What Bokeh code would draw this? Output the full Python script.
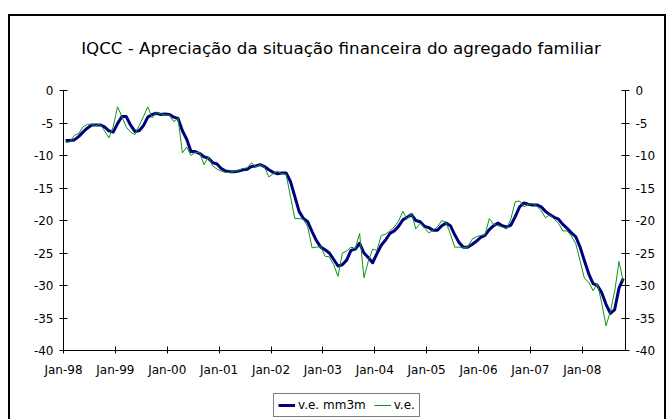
from bokeh.plotting import figure
from bokeh.layouts import column
from bokeh.models import (Range1d, LinearAxis, FixedTicker, Legend, LegendItem,
                          ColumnDataSource)
from bokeh.core.properties import value
from bokeh.embed import file_html
from bokeh.resources import INLINE

# ---------------- data ----------------
title_text = "IQCC - Apreciação da situação financeira do agregado familiar"

# monthly observations, Jan-98 .. Oct-08 (130 months)
month_index = list(range(130))

ve = [
    -8.0, -7.9, -6.9, -6.6, -5.6, -5.2, -5.2, -5.4, -5.2, -6.2, -7.3, -5.6,
    -2.5, -4.0, -5.6, -6.4, -6.8, -5.4, -4.0, -2.5, -4.2, -3.4, -3.6, -3.8,
    -3.8, -4.8, -4.3, -9.6, -8.7, -10.0, -9.5, -9.6, -11.4, -10.2, -11.6, -12.1,
    -12.4, -12.6, -12.6, -12.4, -12.3, -12.0, -11.9, -11.1, -11.8, -11.4, -11.8, -13.3,
    -12.8, -12.4, -12.8, -12.9, -16.3, -19.7, -19.7, -19.8, -21.0, -24.2, -24.1, -24.0,
    -25.5, -25.6, -26.8, -28.6, -25.0, -24.7, -24.1, -24.3, -22.0, -28.8, -26.3, -24.4,
    -24.6, -22.3, -22.1, -21.6, -21.0, -20.1, -18.6, -19.8, -18.9, -21.3, -20.4, -21.1,
    -21.9, -21.5, -21.0, -20.0, -20.3, -22.1, -24.1, -24.1, -24.2, -24.1, -22.9, -22.5,
    -22.3, -22.2, -19.7, -20.6, -20.8, -21.0, -21.3, -19.7, -17.1, -17.0, -17.9, -17.5,
    -17.4, -17.8, -18.5, -19.6, -19.1, -19.8, -20.4, -21.6, -21.6, -22.4, -23.6, -26.2,
    -28.9, -29.5, -30.8, -29.7, -32.7, -36.2, -34.0, -30.9, -26.3, -29.5,
]

ve_mm3m = [
    -7.7, -7.7, -7.6, -7.1, -6.4, -5.8, -5.3, -5.3, -5.3, -5.6, -6.2, -6.4,
    -5.1, -4.0, -4.0, -5.3, -6.3, -6.2, -5.4, -4.1, -3.7, -3.5, -3.7, -3.6,
    -3.7, -4.1, -4.3, -6.2, -7.5, -9.4, -9.4, -9.7, -10.2, -10.4, -11.1, -11.3,
    -12.0, -12.4, -12.5, -12.5, -12.4, -12.2, -12.1, -11.7, -11.6, -11.4, -11.7, -12.2,
    -12.6, -12.8, -12.7, -12.7, -14.0, -16.3, -18.6, -19.7, -20.2, -21.7, -23.1, -24.1,
    -24.5, -25.0, -26.0, -27.0, -26.8, -26.1, -24.6, -24.4, -23.5, -25.0, -25.7, -26.5,
    -25.1, -23.8, -23.0, -22.0, -21.6, -20.9, -19.9, -19.5, -19.1, -20.0, -20.2, -20.9,
    -21.1, -21.5, -21.5, -20.8, -20.4, -20.8, -22.2, -23.4, -24.1, -24.1, -23.7, -23.2,
    -22.6, -22.3, -21.4, -20.8, -20.4, -20.8, -21.0, -20.7, -19.4, -17.9, -17.3, -17.5,
    -17.6, -17.6, -17.9, -18.6, -19.1, -19.5, -19.8, -20.6, -21.2, -21.9, -22.5, -24.1,
    -26.2, -28.2, -29.7, -30.0, -31.1, -32.9, -34.3, -33.7, -30.4, -28.9,
]

x_tick_positions = [0, 12, 24, 36, 48, 60, 72, 84, 96, 108, 120]
x_tick_labels = ["Jan-98", "Jan-99", "Jan-00", "Jan-01", "Jan-02", "Jan-03",
                 "Jan-04", "Jan-05", "Jan-06", "Jan-07", "Jan-08"]
y_ticks = [0, -5, -10, -15, -20, -25, -30, -35, -40]
y_tick_labels = ["0", "-5", "-10", "-15", "-20", "-25", "-30", "-35", "-40"]

series_names = ["v.e. mm3m", "v.e."]
series_colors = ["#000080", "#11921a"]
series_widths = [3, 1]

FONT = "DejaVu Sans"
W = 654
FRAME_W = 562   # inner plotting width shared by the three stacked figures


def blank_strip(height):
    f = figure(width=W, height=height, output_backend="svg", toolbar_location=None,
               x_axis_location=None, y_axis_location=None,
               x_range=Range1d(0, FRAME_W), y_range=Range1d(0, height),
               min_border_left=0, min_border_right=0,
               min_border_top=0, min_border_bottom=0)
    f.xgrid.grid_line_color = None
    f.ygrid.grid_line_color = None
    f.outline_line_color = None
    f.background_fill_color = "white"
    f.border_fill_color = "white"
    return f


# ---------------- title strip ----------------
p0 = blank_strip(50)
p0.text(x=[277.5], y=[19], text=[title_text], text_align="center",
        text_baseline="middle", text_font=value(FONT),
        text_font_size=value("16.7px"), text_color="black")

# ---------------- main figure ----------------
# each month drawn in the middle of its slot on the date axis
src = ColumnDataSource(dict(x=[m + 0.5 for m in month_index], ve=ve, mm=ve_mm3m))

p = figure(width=W, height=320, output_backend="svg", toolbar_location=None,
           x_range=Range1d(0, 130), y_range=Range1d(-40, 0),
           min_border_left=53, min_border_right=39,
           min_border_top=24, min_border_bottom=36)
p.background_fill_color = "white"
p.border_fill_color = "white"
p.outline_line_color = None
p.xgrid.grid_line_color = None
p.ygrid.grid_line_color = None


def style_y(ax):
    ax.ticker = FixedTicker(ticks=y_ticks)
    ax.major_label_overrides = dict(zip(y_ticks, y_tick_labels))
    ax.minor_tick_line_color = None
    ax.major_tick_in = 4
    ax.major_tick_out = 4
    ax.axis_line_color = "black"
    ax.major_tick_line_color = "black"
    ax.major_label_text_font = FONT
    ax.major_label_text_font_size = "12px"
    ax.major_label_text_color = "black"
    ax.major_label_standoff = 6


style_y(p.yaxis[0])
right_axis = LinearAxis()
style_y(right_axis)
p.add_layout(right_axis, "right")

xa = p.xaxis[0]
xa.ticker = FixedTicker(ticks=x_tick_positions)
xa.major_label_overrides = dict(zip(x_tick_positions, x_tick_labels))
xa.minor_tick_line_color = None
xa.major_tick_in = 4
xa.major_tick_out = 3
xa.axis_line_color = "black"
xa.major_tick_line_color = "black"
xa.major_label_text_font = FONT
xa.major_label_text_font_size = "12px"
xa.major_label_text_color = "black"
xa.major_label_standoff = 9

p.line("x", "mm", source=src, line_color=series_colors[0],
       line_width=series_widths[0], line_join="round")
p.line("x", "ve", source=src, line_color=series_colors[1],
       line_width=series_widths[1], line_join="round")

# ---------------- legend strip ----------------
p2 = blank_strip(33)
# key renderers: drawn only as legend samples (their points lie outside the strip's ranges)
key_blue = p2.line([-10, -9], [-10, -9], line_color=series_colors[0], line_width=series_widths[0])
key_green = p2.line([-10, -9], [-10, -9], line_color=series_colors[1], line_width=series_widths[1])

legend = Legend(items=[LegendItem(label=series_names[0], renderers=[key_blue]),
                       LegendItem(label=series_names[1], renderers=[key_green])],
                orientation="horizontal", location=(210, 2))
legend.border_line_color = "black"
legend.border_line_width = 1
legend.background_fill_color = "white"
legend.background_fill_alpha = 1
legend.padding = 4
legend.spacing = 8
legend.margin = 0
legend.glyph_width = 17
legend.glyph_height = 12
legend.label_height = 12
legend.label_standoff = 3
legend.label_text_font = FONT
legend.label_text_font_size = "12px"
legend.label_text_color = "black"
p2.add_layout(legend)

# chart-area frame: left, top and right edges (the bottom lies off the page)
layout = column(p0, p, p2, spacing=0, styles={
    "margin-left": "10px",
    "margin-top": "16px",
    "box-shadow": "-2px 0 0 0 #000, 2px 0 0 0 #000, 0 -2px 0 0 #000, "
                  "-2px -2px 0 0 #000, 2px -2px 0 0 #000",
})

open("out.html", "w").write(file_html(layout, INLINE))
